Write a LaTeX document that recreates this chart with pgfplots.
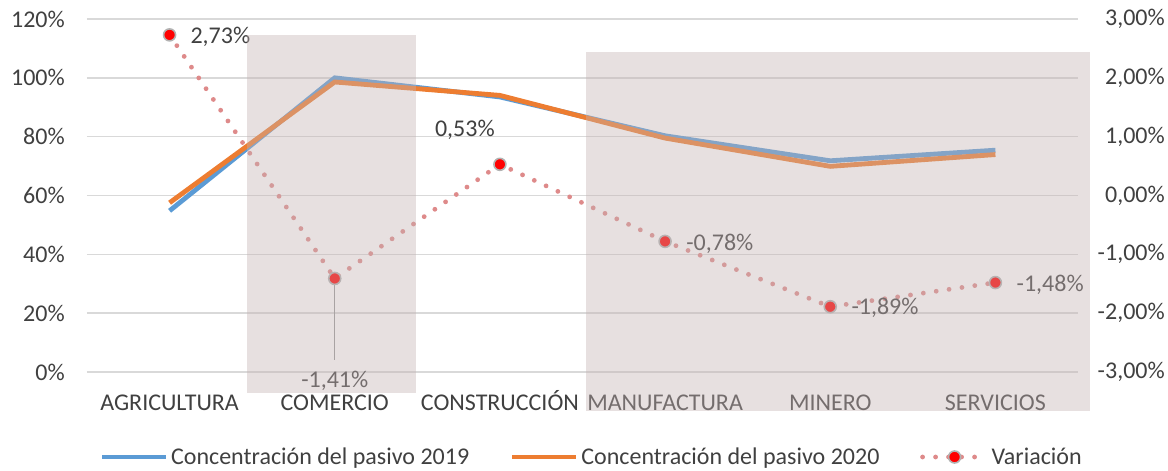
\documentclass[border=0pt]{standalone}
\usepackage{pgfplots}
\pgfplotsset{compat=1.18}
\usepackage{fontspec}
\setmainfont{Carlito}
\definecolor{blue19}{RGB}{91,155,213}
\definecolor{orange20}{RGB}{237,125,49}
\definecolor{vardot}{RGB}{222,138,138}
\definecolor{gridc}{RGB}{217,217,217}
\definecolor{lab}{RGB}{64,64,64}
\definecolor{boxc}{RGB}{195,178,178}
\newcommand{\fs}{\fontsize{18}{20}\selectfont}
\pgfplotsset{
  lineleg/.style={legend image code/.code={\draw[##1] (0pt,0pt) -- (48pt,0pt);}},
  dotleg/.style={legend image code/.code={\draw[##1, mark repeat=2, mark phase=2] plot coordinates {(0pt,0pt) (24pt,0pt) (48pt,0pt)};}},
}
\begin{document}
\begin{tikzpicture}
\useasboundingbox (-65.25pt,-74.25pt) rectangle (810.75pt,279pt);
\begin{axis}[
  at={(0,0)}, anchor=south west, scale only axis,
  width=743.25pt, height=264.75pt,
  xmin=-0.5, xmax=5.5, ymin=0, ymax=120,
  xtick={0,1,2,3,4,5},
  xticklabels={AGRICULTURA,COMERCIO,CONSTRUCCIÓN,MANUFACTURA,MINERO,SERVICIOS},
  ytick={0,20,40,60,80,100,120},
  yticklabel={\pgfmathprintnumber{\tick}\%},
  /pgf/number format/assume math mode=true,
  axis line style={draw=none}, major tick length=0pt,
  ymajorgrids, grid style={gridc, line width=1.1pt},
  tick label style={font=\fs, text=lab, inner sep=0pt},
  yticklabel style={anchor=east, xshift=-16.5pt},
  xticklabel style={anchor=base, yshift=-29.25pt},
  clip=false,
]
\addplot[blue19, line width=3.6pt] coordinates {(0,54.8) (1,100.0) (2,93.5) (3,80.3) (4,71.8) (5,75.4)};
\addplot[orange20, line width=3.6pt] coordinates {(0,57.53) (1,98.59) (2,94.03) (3,79.52) (4,69.91) (5,73.92)};
\end{axis}
\begin{axis}[
  at={(0,0)}, anchor=south west, scale only axis,
  width=743.25pt, height=264.75pt,
  xmin=-0.5, xmax=5.5, ymin=-3, ymax=3,
  axis y line*=right, xtick=\empty,
  ytick={-3,-2,-1,0,1,2,3},
  yticklabel={\pgfmathprintnumber[fixed,fixed zerofill,precision=2,use comma]{\tick}\%},
  /pgf/number format/assume math mode=true,
  axis line style={draw=none}, major tick length=0pt,
  tick label style={font=\fs, text=lab, inner sep=0pt},
  yticklabel style={anchor=east, xshift=65.25pt},
  clip=false,
  legend style={at={(0.5096,-0.2408)}, anchor=center, draw=none, fill=none,
    legend columns=3, font=\fs, text=lab, inner sep=0pt,
    /tikz/every even column/.append style={column sep=28.5pt}},
  legend cell align=left,
]
\addlegendimage{blue19, line width=3.6pt, lineleg}
\addlegendentry{Concentración del pasivo 2019}
\addlegendimage{orange20, line width=3.6pt, lineleg}
\addlegendentry{Concentración del pasivo 2020}
\draw[gray!80, line width=0.8pt] (axis cs:1,-1.41) -- (axis cs:1,-2.80);
\addplot[vardot, line width=3.6pt, dash pattern=on 0pt off 9.75pt, line cap=round,
  mark=*, mark size=4.5pt, mark options={solid, fill=red, draw=gray!60, line width=1.2pt},
  dotleg]
  coordinates {(0,2.73) (1,-1.41) (2,0.53) (3,-0.78) (4,-1.89) (5,-1.48)};
\addlegendentry{Variación}
\node[anchor=west, font=\fs, text=lab, inner sep=0pt, xshift=15.5pt, yshift=-1.5pt] at (axis cs:0,2.73) {2,73\%};
\node[anchor=center, font=\fs, text=lab, inner sep=0pt] at (axis cs:1,-3.153) {-1,41\%};
\node[anchor=east, font=\fs, text=lab, inner sep=0pt, xshift=-3.75pt, yshift=25.5pt] at (axis cs:2,0.53) {0,53\%};
\node[anchor=west, font=\fs, text=lab, inner sep=0pt, xshift=15.75pt, yshift=-1.5pt] at (axis cs:3,-0.78) {-0,78\%};
\node[anchor=west, font=\fs, text=lab, inner sep=0pt, xshift=15.75pt, yshift=-1pt] at (axis cs:4,-1.89) {-1,89\%};
\node[anchor=west, font=\fs, text=lab, inner sep=0pt, xshift=15.75pt, yshift=-1.5pt] at (axis cs:5,-1.48) {-1,48\%};
\coordinate (b1sw) at (axis cs:0.469,-3.357);
\coordinate (b1ne) at (axis cs:1.492,2.728);
\coordinate (b2sw) at (axis cs:2.521,-3.663);
\coordinate (b2ne) at (axis cs:5.573,2.439);
\end{axis}
\fill[boxc, fill opacity=0.4] (b1sw) rectangle (b1ne);
\fill[boxc, fill opacity=0.4] (b2sw) rectangle (b2ne);
\end{tikzpicture}
\end{document}
